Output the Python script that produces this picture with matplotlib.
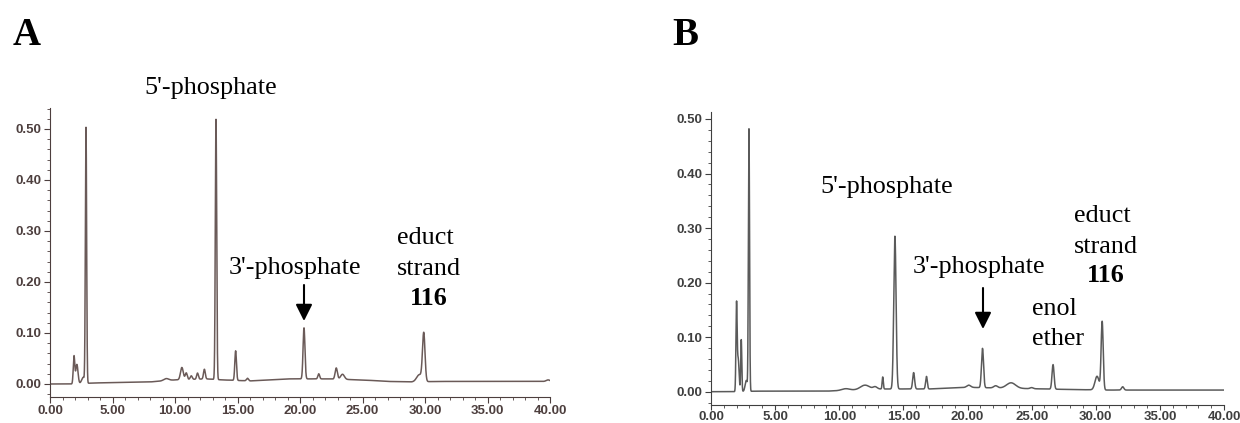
import numpy as np
import matplotlib
matplotlib.use("Agg")
import matplotlib.pyplot as plt
from matplotlib.ticker import MultipleLocator, FormatStrFormatter

W, H = 1240, 423

# Peak tables (retention time [min], height [AU], width sigma [min])
peaks_a_time = [1.92, 2.15, 2.65, 2.88, 9.3, 10.55, 10.9, 11.3, 11.8, 12.35,
                13.28, 14.85, 15.8, 20.32, 21.5, 22.9, 23.4, 29.55, 29.9, 39.85]
peaks_a_height = [0.054, 0.038, 0.012, 0.50, 0.004, 0.024, 0.013, 0.007, 0.012, 0.019,
                  0.51, 0.058, 0.005, 0.100, 0.010, 0.022, 0.010, 0.014, 0.093, 0.003]
peaks_a_sigma = [0.06, 0.09, 0.12, 0.05, 0.2, 0.11, 0.08, 0.08, 0.07, 0.07,
                 0.055, 0.065, 0.08, 0.075, 0.07, 0.09, 0.15, 0.22, 0.1, 0.15]
base_a_time = [0, 1.8, 3.5, 8, 10, 12.5, 13.8, 16, 19, 22, 25, 27, 29, 31, 40]
base_a_level = [0, 0, 0.002, 0.004, 0.008, 0.010, 0.008, 0.006, 0.010, 0.010,
                0.008, 0.005, 0.004, 0.005, 0.005]

peaks_b_time = [1.99, 2.12, 2.36, 2.75, 2.96, 10.5, 12.0, 12.8, 13.39, 14.34,
                15.8, 16.8, 20.1, 21.17, 22.2, 23.4, 25.0, 26.67, 30.1, 30.5, 32.1]
peaks_b_height = [0.155, 0.06, 0.095, 0.02, 0.48, 0.003, 0.008, 0.004, 0.022, 0.28,
                  0.03, 0.023, 0.004, 0.072, 0.004, 0.010, 0.002, 0.045, 0.025, 0.125, 0.006]
peaks_b_sigma = [0.045, 0.07, 0.04, 0.09, 0.045, 0.3, 0.35, 0.15, 0.045, 0.09,
                 0.075, 0.065, 0.15, 0.08, 0.15, 0.35, 0.12, 0.08, 0.16, 0.08, 0.09]
base_b_time = [0, 1.85, 3.5, 9, 13, 17, 20, 24, 28, 31, 40]
base_b_level = [0, 0, 0.001, 0.001, 0.005, 0.005, 0.008, 0.006, 0.004, 0.003, 0.003]

x_ticks = [0, 5, 10, 15, 20, 25, 30, 35, 40]
y_ticks = [0.0, 0.1, 0.2, 0.3, 0.4, 0.5]


def trace(times, heights, sigmas, btime, blevel, t):
    y = np.interp(t, btime, blevel)
    for c, h, s in zip(times, heights, sigmas):
        y = y + h * np.exp(-0.5 * ((t - c) / s) ** 2)
    return y


def px_axes(fig, left, right, top, bottom):
    return fig.add_axes([left / W, 1 - bottom / H, (right - left) / W, (bottom - top) / H])


def style_axes(ax, color, ylim, xtick_len=4.5, xpad=1.5):
    ax.set_xlim(0, 40)
    ax.set_ylim(*ylim)
    for s in ("top", "right"):
        ax.spines[s].set_visible(False)
    for s in ("left", "bottom"):
        ax.spines[s].set_color(color)
        ax.spines[s].set_linewidth(0.8)
    ax.set_xticks(x_ticks)
    ax.set_yticks(y_ticks)
    ax.xaxis.set_minor_locator(MultipleLocator(1))
    ax.yaxis.set_minor_locator(MultipleLocator(0.02))
    ax.xaxis.set_major_formatter(FormatStrFormatter("%.2f"))
    ax.yaxis.set_major_formatter(FormatStrFormatter("%.2f"))
    ax.tick_params(which="major", length=4.5, width=0.8, color=color, labelcolor=color,
                   labelsize=9.5, pad=1.5)
    ax.tick_params(axis="x", which="major", length=xtick_len, pad=xpad)
    ax.tick_params(which="minor", length=2, width=0.6, color=color)
    for lab in ax.get_xticklabels() + ax.get_yticklabels():
        lab.set_fontweight("bold")
        lab.set_family("Liberation Sans")
    ax.patch.set_alpha(0)


fig = plt.figure(figsize=(W / 100, H / 100), dpi=100)
t = np.linspace(0, 40, 16001)

col_a = "#4d3f3e"
ax_a = px_axes(fig, 50, 550, 108, 397)
ya = trace(peaks_a_time, peaks_a_height, peaks_a_sigma, base_a_time, base_a_level, t)
ax_a.plot(t, ya, color="#6a5a58", lw=1.1)
style_axes(ax_a, col_a, (-0.0255, 0.541))

col_b = "#3f3f3f"
ax_b = px_axes(fig, 711, 1224, 112, 405)
yb = trace(peaks_b_time, peaks_b_height, peaks_b_sigma, base_b_time, base_b_level, t)
ax_b.plot(t, yb, color="#5a5a5a", lw=1.1)
style_axes(ax_b, col_b, (-0.0244, 0.5128), xtick_len=3.5, xpad=0.5)

serif = "Liberation Serif"


def label(x, y, s, size=18.8, weight="normal"):
    fig.text(x / W, 1 - y / H, s, fontsize=size, fontweight=weight, family=serif,
             ha="left", va="baseline", color="black")


def arrow(x, y0, y1):
    fig.patches.append(matplotlib.patches.FancyArrowPatch(
        (x / W, 1 - y0 / H), (x / W, 1 - y1 / H), transform=fig.transFigure,
        arrowstyle="-|>,head_length=0.5,head_width=0.25", mutation_scale=20,
        lw=1.5, color="black", shrinkA=0, shrinkB=0))


# Panel A
label(13, 45, "A", size=28, weight="bold")
label(144, 94, "5'-phosphate")
label(229, 274, "3'-phosphate")
arrow(304, 285, 321)
label(397, 244, "educt")
label(397, 275, "strand")
label(410, 305, "116", weight="bold")

# Panel B
label(672, 45, "B", size=28, weight="bold")
label(820, 193, "5'-phosphate")
label(913, 273, "3'-phosphate")
arrow(983, 288, 329)
label(1032, 315, "enol")
label(1032, 345, "ether")
label(1074, 222, "educt")
label(1074, 253, "strand")
label(1087, 282, "116", weight="bold")

fig.savefig("out.png", dpi=100, facecolor="white")
